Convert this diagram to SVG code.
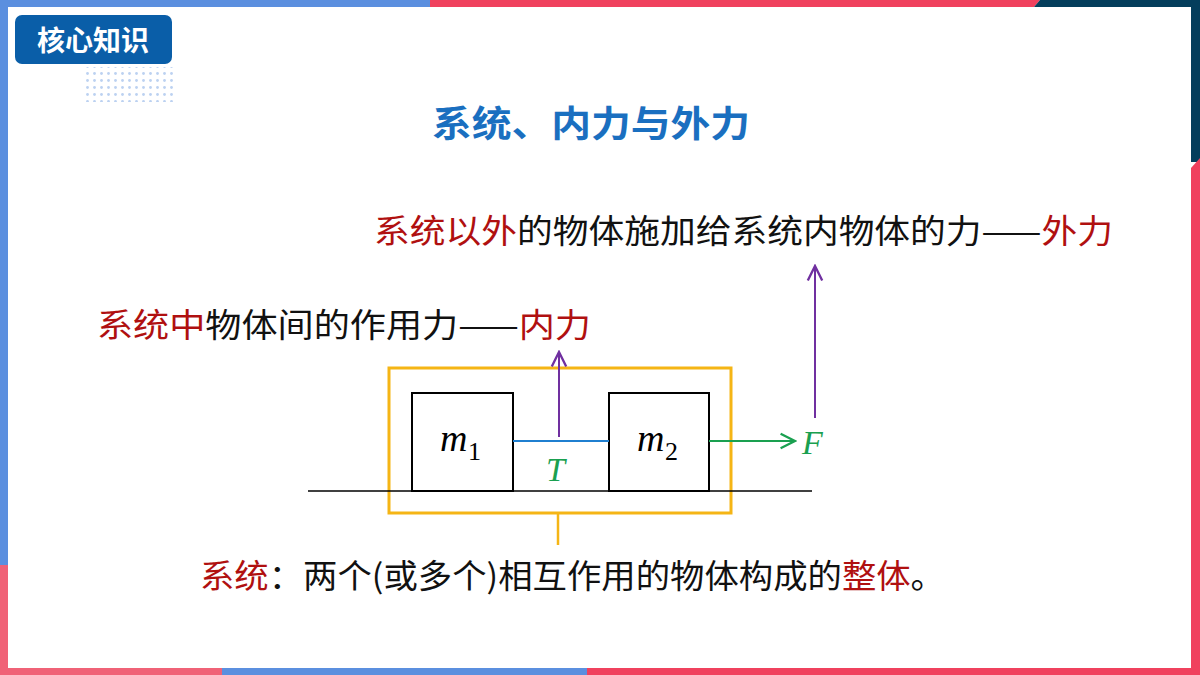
<svg xmlns="http://www.w3.org/2000/svg" width="1200" height="675" viewBox="0 0 1200 675">
<defs>
<style>
.cn{font-family:"Noto Sans CJK SC","Liberation Sans",sans-serif;font-size:33px;fill:#111}
.red{fill:#b01010}
.m{font-family:"Liberation Serif",serif;font-style:italic}
.sub{font-family:"Liberation Serif",serif;font-size:26px}
</style>
<marker id="ap" viewBox="0 0 10 10" refX="9" refY="5" markerWidth="9" markerHeight="9" orient="auto"><path d="M1,1 L9,5 L1,9" fill="none" stroke="#7030a0" stroke-width="1.3"/></marker>
<marker id="ag" viewBox="0 0 10 10" refX="9" refY="5" markerWidth="9" markerHeight="9" orient="auto"><path d="M1,1 L9,5 L1,9" fill="none" stroke="#1aa050" stroke-width="1.3"/></marker>
<pattern id="dots" width="7" height="7" patternUnits="userSpaceOnUse"><circle cx="3.5" cy="3.5" r="1.4" fill="#8fb3e8"/></pattern>
</defs>
<rect width="1200" height="675" fill="#fff"/>
<rect x="0" y="0" width="430" height="7" fill="#5b8fdf"/>
<polygon points="430,0 1040,0 1034,7 430,7" fill="#f0415e"/>
<polygon points="1040,0 1200,0 1200,7 1034,7" fill="#043e5c"/>
<rect x="1191" y="0" width="9" height="162" fill="#043e5c"/>
<polygon points="1191,168 1200,158 1200,675 1191,675" fill="#f0415e"/>
<rect x="0" y="0" width="8" height="565" fill="#5b8fdf"/>
<rect x="0" y="565" width="8" height="110" fill="#f06277"/>
<rect x="0" y="668" width="222" height="7" fill="#f06277"/>
<rect x="222" y="668" width="365" height="7" fill="#5b8fdf"/>
<rect x="587" y="668" width="613" height="7" fill="#f0415e"/>
<g id="badge">
<rect x="83" y="67" width="90" height="35" fill="url(#dots)" opacity="0.6"/>
<rect x="15" y="15" width="157" height="49" rx="7" fill="#0a5ea8"/>
<text x="93" y="51" text-anchor="middle" font-family="Noto Sans CJK SC,sans-serif" font-weight="bold" font-size="28" fill="#fff">核心知识</text>
</g>
<text x="432" y="137" textLength="318" lengthAdjust="spacingAndGlyphs" font-family="Noto Sans CJK SC,sans-serif" font-weight="bold" font-size="36" fill="#1a6fc0">系统、内力与外力</text>
<text class="cn" x="374" y="243" textLength="739" lengthAdjust="spacingAndGlyphs"><tspan class="red">系统以外</tspan>的物体施加给系统内物体的力——<tspan class="red">外力</tspan></text>
<text class="cn" x="97" y="337" textLength="494" lengthAdjust="spacingAndGlyphs"><tspan class="red">系统中</tspan>物体间的作用力——<tspan class="red">内力</tspan></text>
<text class="cn" x="200" y="588" textLength="745" lengthAdjust="spacingAndGlyphs"><tspan class="red">系统</tspan>：两个(或多个)相互作用的物体构成的<tspan class="red">整体</tspan>。</text>
<g id="system"><rect x="389" y="368" width="342" height="145" fill="none" stroke="#f5b515" stroke-width="3"/></g>
<line x1="308" y1="491" x2="812" y2="491" stroke="#000" stroke-width="1.3"/>
<g id="m1"><rect x="412" y="393" width="101" height="98" fill="#fff" stroke="#000" stroke-width="2"/>
<text x="440" y="451" font-size="38" class="m">m</text><text x="468" y="460" class="sub">1</text></g>
<g id="m2"><rect x="609" y="393" width="100" height="98" fill="#fff" stroke="#000" stroke-width="2"/>
<text x="637" y="451" font-size="38" class="m">m</text><text x="665" y="460" class="sub">2</text></g>
<g id="connectors">
<line x1="513" y1="441" x2="609" y2="441" stroke="#1f7fd0" stroke-width="2"/>
<line x1="709" y1="441" x2="795" y2="441" stroke="#1aa050" stroke-width="2" marker-end="url(#ag)"/>
<line x1="559" y1="437" x2="559" y2="352" stroke="#7030a0" stroke-width="2" marker-end="url(#ap)"/>
<line x1="815" y1="418" x2="815" y2="266" stroke="#7030a0" stroke-width="2" marker-end="url(#ap)"/>
<line x1="558" y1="513" x2="558" y2="545" stroke="#f5b515" stroke-width="2.5"/>
</g>
<text x="546" y="481" font-size="34" class="m" fill="#1aa050">T</text>
<text x="802" y="454" font-size="34" class="m" fill="#1aa050">F</text>
</svg>
